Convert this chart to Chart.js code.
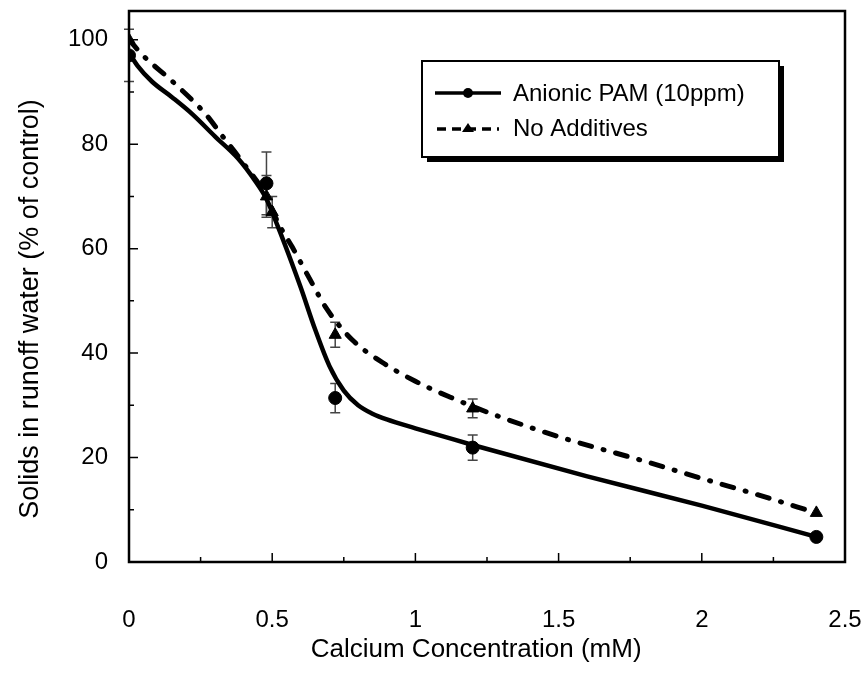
<!DOCTYPE html>
<html lang="en">
<head>
    <meta charset="UTF-8">
    <title>Solids in runoff water vs calcium</title>
    <style>
        body {
            margin: 0;
            padding: 0;
            background: #fff;
        }
        #chart {
            display: block;
        }
    </style>
</head>
<body>
    <canvas id="chart" width="865" height="683"></canvas>

<script src="https://cdn.jsdelivr.net/npm/chart.js"></script>
<script>
    // measured points (with error bars)
    const pamX = [0, 0.48, 0.72, 1.2, 2.4];
    const pamY = [97, 72.5, 31.4, 21.9, 4.8];
    const pamErr = [5, 6, 2.8, 2.4, 0];

    const naX = [0, 0.48, 0.5, 0.72, 1.2, 2.4];
    const naY = [100, 70, 67, 43.5, 29.4, 9.4];
    const naErr = [0, 4, 3, 2.4, 1.8, 0];

    // fitted curves
    const pamFitX = [0, 0.03, 0.08, 0.15, 0.22, 0.3, 0.38, 0.44, 0.48, 0.52, 0.56, 0.6, 0.65, 0.7, 0.75, 0.8, 0.85, 0.9, 1.0, 1.1, 1.2, 1.6, 2.0, 2.4];
    const pamFitY = [97.5, 95, 92, 89, 85.8, 81.5, 77.3, 73, 69.5, 64.2, 58.5, 52.5, 44.5, 37.5, 32.8, 30, 28.4, 27.3, 25.6, 24, 22.4, 16.4, 10.8, 4.8];

    const naFitX = [0, 0.045, 0.16, 0.27, 0.32, 0.4, 0.48, 0.52, 0.57, 0.63, 0.69, 0.78, 0.885, 1.0, 1.12, 1.27, 1.5, 1.8, 2.0, 2.2, 2.4];
    const naFitY = [100, 97.2, 91.6, 85.6, 82, 76.3, 70, 65, 60.3, 54.3, 48.5, 42.5, 38.2, 34.6, 31.6, 28.3, 24, 19.3, 16, 12.8, 9.4];

    const xTicks = [0, 0.5, 1, 1.5, 2, 2.5];
    const yTicks = [0, 20, 40, 60, 80, 100];

    const FONT = "'Liberation Sans', Arial, sans-serif";

    function pts(xs, ys) {
        return xs.map((x, i) => ({ x: x, y: ys[i] }));
    }

    // error bars, frame, inward tick marks and boxed legend
    const extras = {
        id: 'extras',
        beforeDatasetsDraw(chart) {
            const ctx = chart.ctx;
            const xs = chart.scales.x, ys = chart.scales.y;
            ctx.save();
            ctx.strokeStyle = '#444';
            ctx.lineWidth = 1.5;
            const bars = [[pamX, pamY, pamErr], [naX, naY, naErr]];
            bars.forEach(([bx, by, be]) => {
                bx.forEach((x, i) => {
                    if (!be[i]) return;
                    const px = xs.getPixelForValue(x);
                    const top = ys.getPixelForValue(by[i] + be[i]);
                    const bot = ys.getPixelForValue(by[i] - be[i]);
                    ctx.beginPath();
                    ctx.moveTo(px, top); ctx.lineTo(px, bot);
                    ctx.moveTo(px - 5, top); ctx.lineTo(px + 5, top);
                    ctx.moveTo(px - 5, bot); ctx.lineTo(px + 5, bot);
                    ctx.stroke();
                });
            });
            ctx.restore();
        },
        afterDraw(chart) {
            const ctx = chart.ctx;
            const a = chart.chartArea;
            const xs = chart.scales.x, ys = chart.scales.y;
            ctx.save();
            ctx.strokeStyle = '#000';

            // inward ticks
            ctx.lineWidth = 1.5;
            ctx.beginPath();
            for (let v = 0.25; v < 2.5; v += 0.25) {
                const px = xs.getPixelForValue(v);
                const len = (Math.abs(v * 2 - Math.round(v * 2)) < 1e-6) ? 9 : 5;
                ctx.moveTo(px, a.bottom); ctx.lineTo(px, a.bottom - len);
            }
            for (let v = 10; v <= 100; v += 10) {
                const py = ys.getPixelForValue(v);
                const len = v % 20 === 0 ? 9 : 5;
                ctx.moveTo(a.left, py); ctx.lineTo(a.left + len, py);
            }
            ctx.stroke();

            // frame
            ctx.lineWidth = 2.5;
            ctx.strokeRect(a.left, a.top, a.right - a.left, a.bottom - a.top);

            // legend box with shadow
            const lx = 422, ly = 61, lw = 357, lh = 96;
            ctx.fillStyle = '#000';
            ctx.fillRect(lx + 5, ly + 5, lw, lh);
            ctx.fillStyle = '#fff';
            ctx.fillRect(lx, ly, lw, lh);
            ctx.lineWidth = 2;
            ctx.strokeRect(lx, ly, lw, lh);

            // entry 1: solid line + circle
            ctx.lineWidth = 3.5;
            ctx.beginPath();
            ctx.moveTo(435, 93); ctx.lineTo(501, 93);
            ctx.stroke();
            ctx.fillStyle = '#000';
            ctx.beginPath();
            ctx.arc(468, 93, 5, 0, Math.PI * 2);
            ctx.fill();

            // entry 2: dashed line + triangle
            ctx.setLineDash([9, 6]);
            ctx.beginPath();
            ctx.moveTo(437, 129); ctx.lineTo(499, 129);
            ctx.stroke();
            ctx.setLineDash([]);
            ctx.beginPath();
            ctx.moveTo(468, 123); ctx.lineTo(474, 132); ctx.lineTo(462, 132);
            ctx.closePath();
            ctx.fill();

            ctx.font = '24px ' + FONT;
            ctx.textBaseline = 'middle';
            ctx.textAlign = 'left';
            ctx.fillText('Anionic PAM (10ppm)', 513, 94);
            ctx.fillText('No Additives', 513, 129);
            ctx.restore();
        }
    };

    new Chart(document.getElementById('chart'), {
        type: 'scatter',
        data: {
            datasets: [
                {
                    label: 'Anionic PAM (10ppm)',
                    data: pts(pamX, pamY),
                    showLine: false,
                    pointStyle: 'circle',
                    pointRadius: 6.5,
                    backgroundColor: '#000',
                    borderColor: '#000',
                    order: 1
                },
                {
                    label: 'No Additives',
                    data: pts(naX, naY),
                    showLine: false,
                    pointStyle: 'triangle',
                    pointRadius: 7,
                    backgroundColor: '#000',
                    borderColor: '#000',
                    order: 2
                },
                {
                    label: 'PAM fit',
                    data: pts(pamFitX, pamFitY),
                    showLine: true,
                    pointRadius: 0,
                    borderColor: '#000',
                    borderWidth: 4.5,
                    cubicInterpolationMode: 'monotone',
                    order: 3
                },
                {
                    label: 'No additives fit',
                    data: pts(naFitX, naFitY),
                    showLine: true,
                    pointRadius: 0,
                    borderColor: '#000',
                    borderWidth: 5,
                    borderCapStyle: 'round',
                    borderDash: [12, 12, 1, 12],
                    cubicInterpolationMode: 'monotone',
                    order: 4
                }
            ]
        },
        options: {
            responsive: false,
            animation: false,
            devicePixelRatio: 1,
            layout: { padding: { top: 11, right: 20, left: 0, bottom: 0 } },
            plugins: {
                legend: { display: false },
                tooltip: { enabled: false }
            },
            scales: {
                x: {
                    type: 'linear',
                    min: 0,
                    max: 2.5,
                    afterBuildTicks: s => { s.ticks = xTicks.map(v => ({ value: v })); },
                    afterFit: s => { s.height = 121; s.paddingLeft = 0; s.paddingRight = 0; },
                    grid: { display: false, drawTicks: false },
                    border: { display: false },
                    ticks: {
                        padding: 44,
                        color: '#000',
                        font: { family: FONT, size: 24 },
                        callback: v => String(v)
                    },
                    title: {
                        display: true,
                        // trailing spaces nudge the centred title left, as in the original
                        text: 'Calcium Concentration (mM)   ',
                        color: '#000',
                        font: { family: FONT, size: 26 },
                        padding: { top: 0, bottom: 18 }
                    }
                },
                y: {
                    type: 'linear',
                    min: 0,
                    max: 105.5,
                    afterBuildTicks: s => { s.ticks = yTicks.map(v => ({ value: v })); },
                    afterFit: s => { s.width = 129; s.paddingTop = 0; s.paddingBottom = 0; },
                    grid: { display: false, drawTicks: false },
                    border: { display: false },
                    ticks: {
                        padding: 21,
                        color: '#000',
                        font: { family: FONT, size: 24 }
                    },
                    title: {
                        display: true,
                        text: 'Solids in runoff water (% of control)      ',
                        color: '#000',
                        font: { family: FONT, size: 27 },
                        padding: { top: 14, bottom: 0 }
                    }
                }
            }
        },
        plugins: [extras]
    });
</script>
</body>
</html>
